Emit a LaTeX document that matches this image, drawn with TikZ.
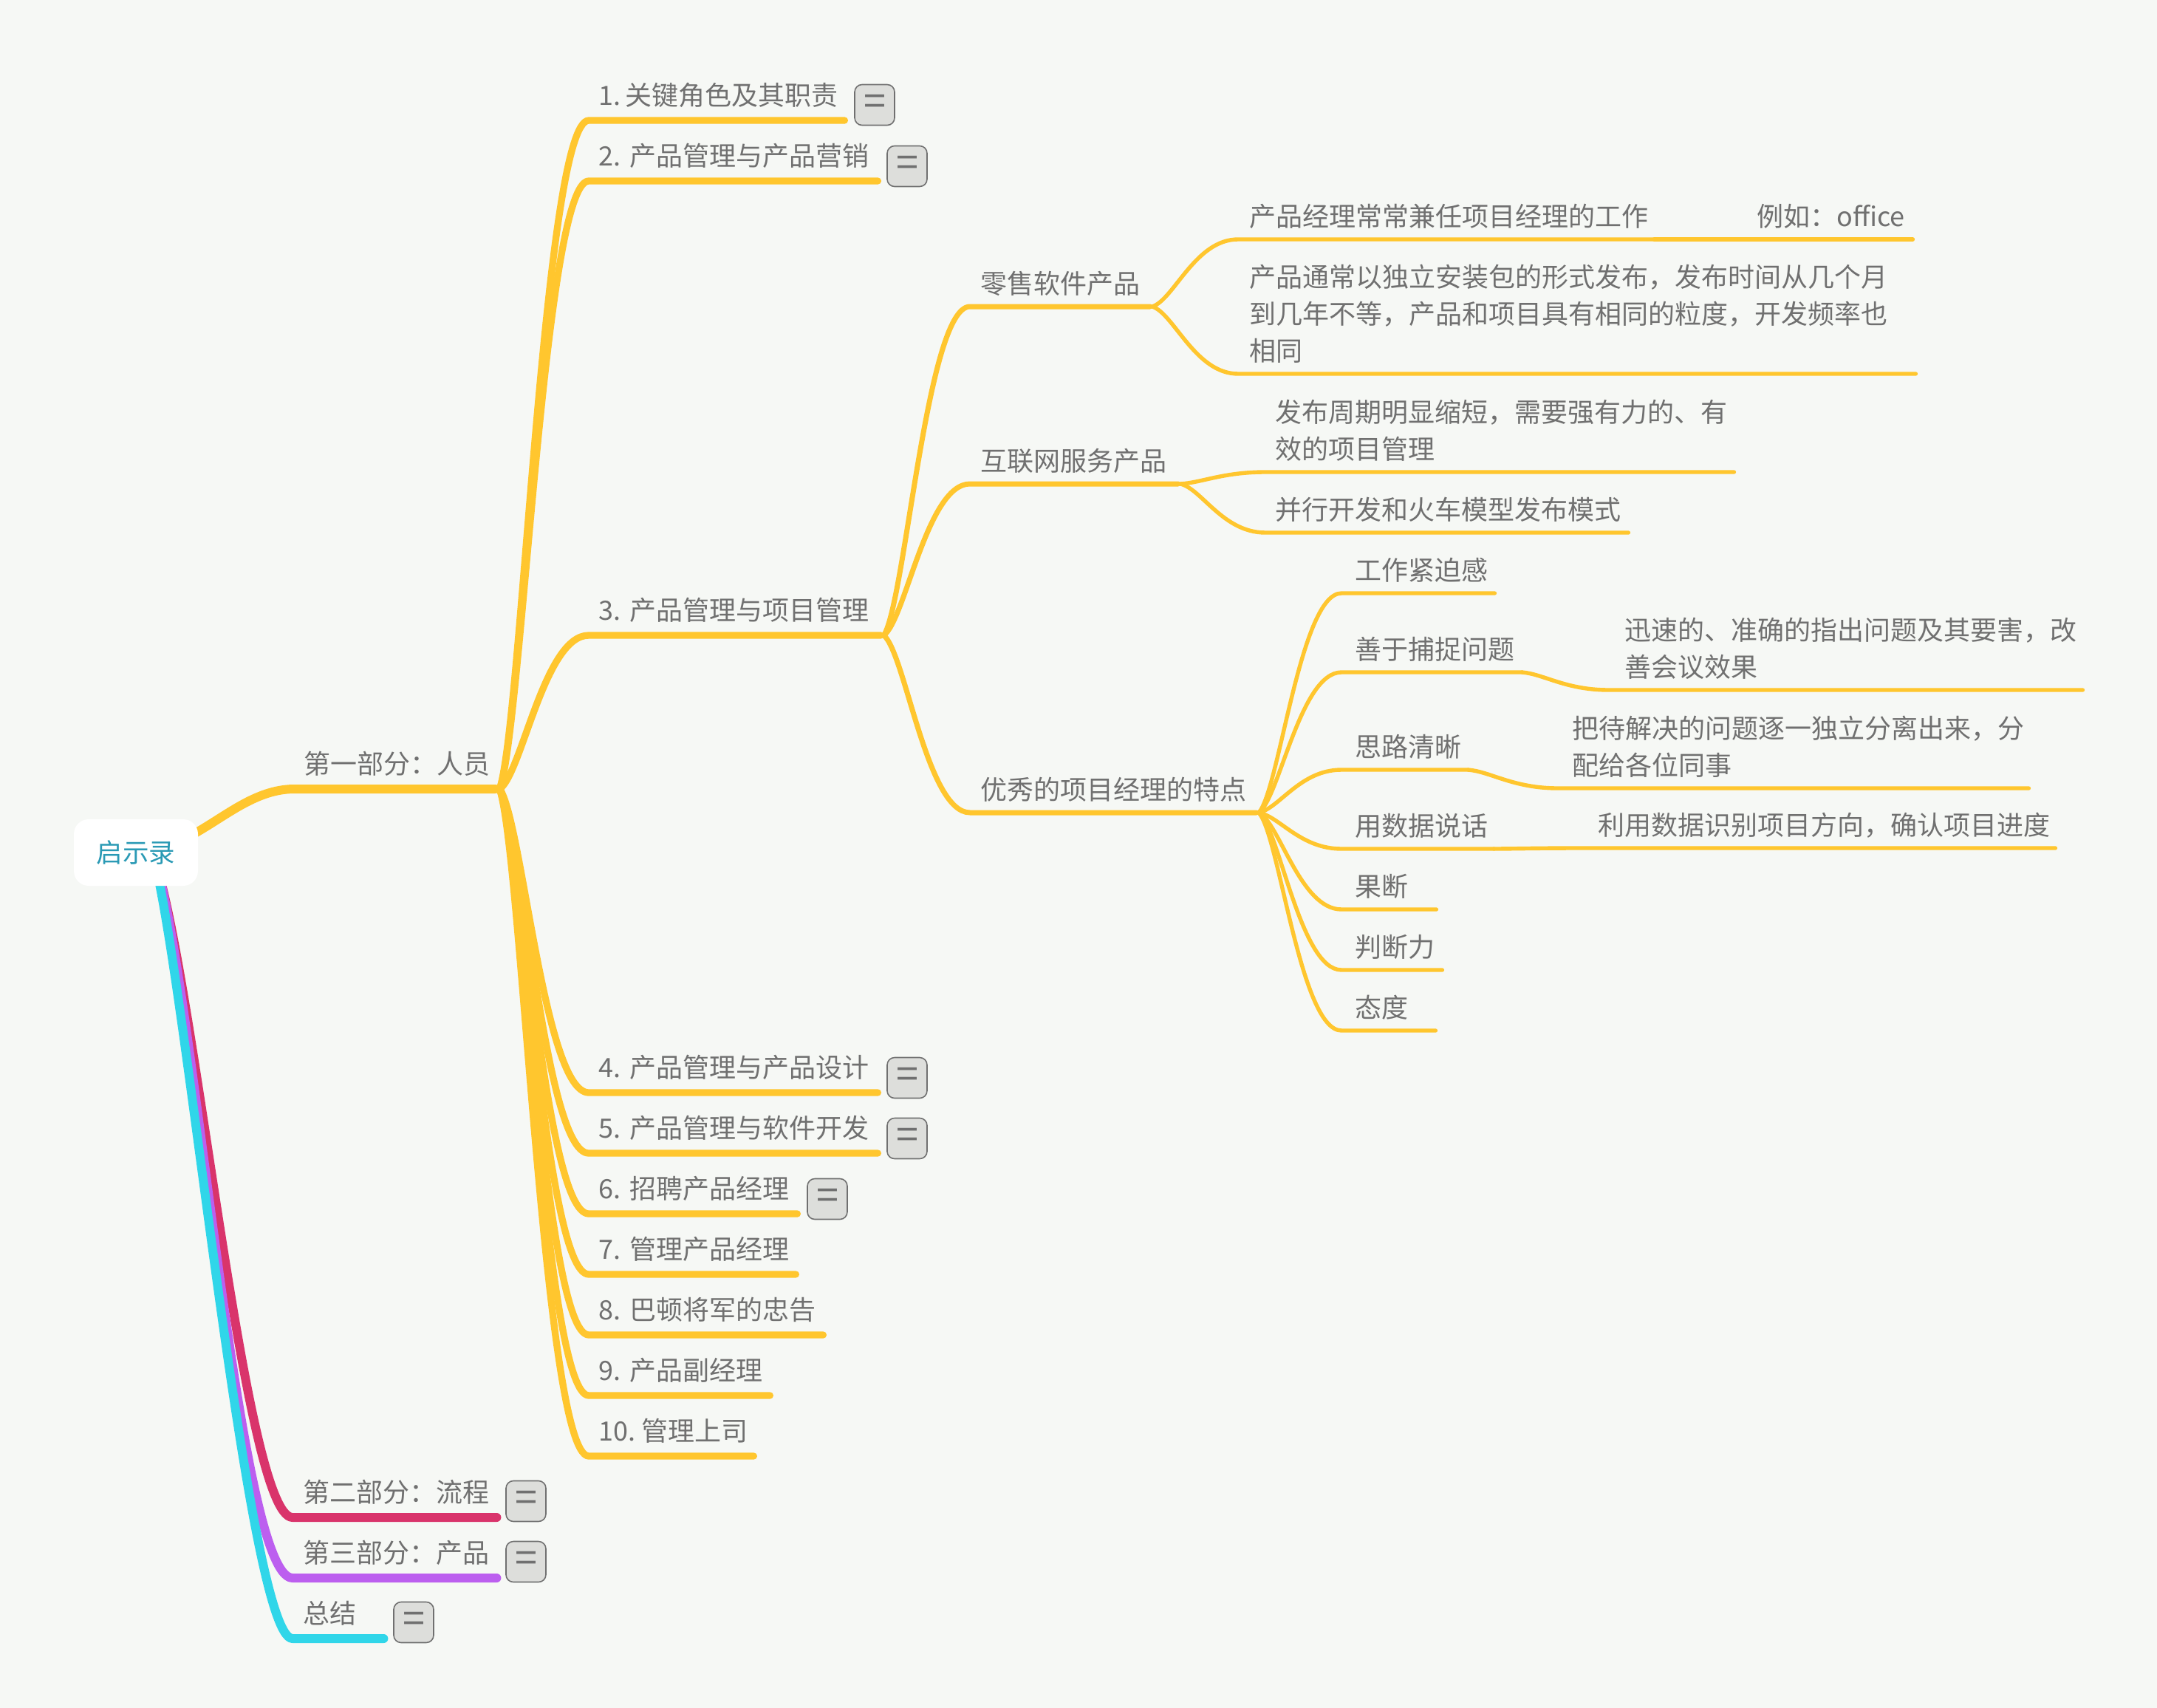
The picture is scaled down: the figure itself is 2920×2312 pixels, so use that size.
\documentclass[tikz,border=0pt]{standalone}
\usepackage{fontspec}
\setmainfont{Noto Sans CJK SC}
\usetikzlibrary{calc,backgrounds}
\definecolor{paper}{HTML}{F6F8F5}
\definecolor{ink}{HTML}{707070}
\definecolor{rootink}{HTML}{2A9AB5}
\definecolor{gold}{HTML}{FFC62E}
\definecolor{rose}{HTML}{D9346B}
\definecolor{violet}{HTML}{BC5FEF}
\definecolor{aqua}{HTML}{30D6E9}
\definecolor{togglefill}{HTML}{DDDEDB}
\tikzset{
	topic/.style={anchor=south west, inner ysep=2pt, inner xsep=14pt, align=left, text=ink, font=\fontsize{36}{50}\selectfont, execute at begin node=\strut, execute at end node=\strut},
	topicup/.style={topic, inner ysep=5pt},
	toggle/.style={draw=ink, line width=1.6pt, fill=togglefill, rounded corners=10pt, minimum width=54pt, minimum height=55pt, inner sep=0pt, text=ink, font=\fontsize{54}{54}\selectfont},
	branch/.style={to path={let \p1=(\tikztostart), \p2=(\tikztotarget) in .. controls ({\x1+0.25*(\x2-\x1)},{\y1+0.1*(\y2-\y1)}) and ({\x1+0.5*(\x2-\x1)},\y2) .. (\tikztotarget) \tikztonodes}},
	wire/.style={line cap=round, line join=round, color=gold},
	wireA/.style={wire, line width=12pt},
	wireB/.style={wire, line width=9.3pt},
	wireC/.style={wire, line width=7pt},
	wireD/.style={wire, line width=5.4pt}
}
\begin{document}
\begin{tikzpicture}[x=1pt,y=-1pt]
	\useasboundingbox (0,0) rectangle (2920,2312);
	% ROOT
	\node (root) at (184,1154) [fill=white, rounded corners=20pt, minimum width=168pt, minimum height=90pt, inner sep=0pt, text=rootink, font=\fontsize{35.5}{50}\selectfont] {启示录};
	% PARTS
	\node (part1) at (399,1068) [topicup, inner xsep=12pt, text width=247pt] {第一部分：人员};
	\node (part2) at (396,2054) [topicup, text width=248pt] {第二部分：流程};
	\node (part3) at (396,2136) [topicup, text width=248pt] {第三部分：产品};
	\node (part4) at (396,2218) [topicup, text width=95pt] {总结};
	% CHAPTERS
	\node (sec1) at (797,163) [topicup, inner xsep=13pt, text width=320pt] {1.\kern-6pt~关键角色及其职责};
	\node (sec2) at (797,245) [topicup, inner xsep=13pt, text width=365pt] {2.~产品管理与产品营销};
	\node (sec3) at (797,860) [topicup, inner xsep=13pt, text width=369pt] {3.~产品管理与项目管理};
	\node (sec4) at (797,1479) [topicup, inner xsep=13pt, text width=365pt] {4.~产品管理与产品设计};
	\node (sec5) at (797,1561) [topicup, inner xsep=13pt, text width=365pt] {5.~产品管理与软件开发};
	\node (sec6) at (797,1643) [topicup, inner xsep=13pt, text width=256pt] {6.~招聘产品经理};
	\node (sec7) at (797,1725) [topicup, inner xsep=13pt, text width=254pt] {7.~管理产品经理};
	\node (sec8) at (797,1807) [topicup, inner xsep=13pt, text width=291pt] {8.~巴顿将军的忠告};
	\node (sec9) at (797,1889) [topicup, inner xsep=13pt, text width=219pt] {9.~产品副经理};
	\node (sec10) at (797,1971) [topicup, inner xsep=13pt, text width=197pt] {10.\kern-4pt~管理上司};
	% SECTION 3 TOPICS
	\node (retail) at (1313,415) [topic, text width=215.5pt] {零售软件产品};
	\node (web) at (1313,655) [topic, text width=253.5pt] {互联网服务产品};
	\node (pm) at (1313,1100) [topic, text width=359.5pt] {优秀的项目经理的特点};
	% RETAIL + WEB
	\node (retailA) at (1676,324) [topic, inner xsep=15pt, text width=533pt] {产品经理常常兼任项目经理的工作};
	\node (retailAx) at (2365,324) [topic, inner xsep=13pt, text width=198pt] {例如：office};
	\node (retailB) at (1676,506) [topic, inner xsep=15pt, text width=887pt] {产品通常以独立安装包的形式发布，发布时间从几个月\\到几年不等，产品和项目具有相同的粒度，开发频率也\\相同};
	\node (webA) at (1713,639) [topic, inner xsep=13pt, text width=608pt] {发布周期明显缩短，需要强有力的、有\\效的项目管理};
	\node (webB) at (1713,721) [topic, inner xsep=13pt, text width=465pt] {并行开发和火车模型发布模式};
	% PM TRAITS
	\node (pmA) at (1816,803) [topic, inner xsep=18pt, text width=171pt] {工作紧迫感};
	\node (pmB) at (1816,910) [topic, inner xsep=18pt, text width=208pt] {善于捕捉问题};
	\node (pmBx) at (2178,934) [topic, inner xsep=21pt, text width=599pt] {迅速的、准确的指出问题及其要害，改\\善会议效果};
	\node (pmC) at (1816,1042) [topic, inner xsep=18pt, text width=135pt] {思路清晰};
	\node (pmCx) at (2109,1067) [topic, inner xsep=19pt, text width=599pt] {把待解决的问题逐一独立分离出来，分\\配给各位同事};
	\node (pmD) at (1816,1149) [topic, inner xsep=18pt, text width=170pt] {用数据说话};
	\node (pmDx) at (2140,1148) [topic, inner xsep=23pt, text width=596pt] {利用数据识别项目方向，确认项目进度};
	\node (pmE) at (1816,1231) [topic, inner xsep=18pt, text width=92pt] {果断};
	\node (pmF) at (1816,1313) [topic, inner xsep=18pt, text width=100pt] {判断力};
	\node (pmG) at (1816,1395) [topic, inner xsep=18pt, text width=91pt] {态度};
	% TOGGLES
	\node (tog1) at (1184,142) [toggle] {=};
	\node (tog2) at (1228,225) [toggle] {=};
	\node (tog4) at (1228,1459) [toggle] {=};
	\node (tog5) at (1228,1541) [toggle] {=};
	\node (tog6) at (1120,1623) [toggle] {=};
	\node (togP2) at (712,2032) [toggle] {=};
	\node (togP3) at (712,2114) [toggle] {=};
	\node (togP4) at (560,2196) [toggle] {=};
	% CONNECTORS
	\begin{scope}[on background layer]
		\fill[paper] (0,0) rectangle (2920,2312);
		\draw[wireA] (root.center) .. controls (270,1150) and (320,1068) .. (part1.south west) -- (part1.south east);
		\draw[wireA, color=rose] (root.center) ++(22,0) .. controls +(56,146) and (330,2054) .. (part2.south west) -- (part2.south east);
		\draw[wireA, color=violet] (root.center) ++(22,0) .. controls +(56,146) and (320,2136) .. (part3.south west) -- (part3.south east);
		\draw[wireA, color=aqua] (root.center) ++(22,0) .. controls +(44,146) and (335,2218) .. (part4.south west) -- (part4.south east);
		% PART 1
		\foreach \kid in {sec1,sec2,sec3,sec4,sec5,sec6,sec7,sec8,sec9,sec10}
			\draw[wireB] ([xshift=6pt]part1.south east) to[branch] (\kid.south west) -- (\kid.south east);
		% SECTION 3
		\foreach \kid in {retail,web,pm}
			\draw[wireC] ([xshift=4pt]sec3.south east) to[branch] (\kid.south west) -- (\kid.south east);
		\foreach \kid in {retailA,retailB}
			\draw[wireD] ([xshift=3pt]retail.south east) to[branch] (\kid.south west) -- (\kid.south east);
		\foreach \kid in {webA,webB}
			\draw[wireD] ([xshift=3pt]web.south east) to[branch] (\kid.south west) -- (\kid.south east);
		\foreach \kid in {pmA,pmB,pmC,pmD,pmE,pmF,pmG}
			\draw[wireD] ([xshift=3pt]pm.south east) to[branch] (\kid.south west) -- (\kid.south east);
		% LAST LEVEL
		\draw[wireD] (retailA.south east) to[branch] (retailAx.south west) -- (retailAx.south east);
		\draw[wireD] (pmB.south east) to[branch] (pmBx.south west) -- (pmBx.south east);
		\draw[wireD] (pmC.south east) to[branch] (pmCx.south west) -- (pmCx.south east);
		\draw[wireD] (pmD.south east) to[branch] (pmDx.south west) -- (pmDx.south east);
	\end{scope}
\end{tikzpicture}
\end{document}
